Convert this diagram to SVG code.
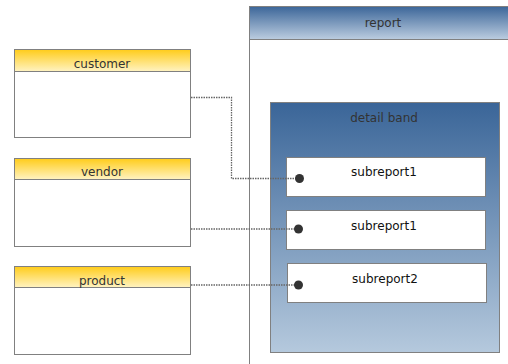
<svg xmlns="http://www.w3.org/2000/svg" width="508" height="364" viewBox="0 0 508 364">
<defs>
<linearGradient id="yel" x1="0" y1="0" x2="0" y2="1"><stop offset="0" stop-color="#ffcc1a"/><stop offset="1" stop-color="#fff3c2"/></linearGradient>
<linearGradient id="blueHead" x1="0" y1="0" x2="0" y2="1"><stop offset="0" stop-color="#3c6699"/><stop offset="1" stop-color="#bccde0"/></linearGradient>
<linearGradient id="band" x1="0" y1="0" x2="0" y2="1"><stop offset="0" stop-color="#3a6598"/><stop offset="1" stop-color="#b5c9dd"/></linearGradient>
<style>
.box{fill:#fff;stroke:#808080;stroke-width:1}
.head{fill:url(#yel);stroke:#808080;stroke-width:1}
.t{font-family:"DejaVu Sans",Verdana,sans-serif;font-size:12px;fill:#333;text-anchor:middle}
.s{font-family:"DejaVu Sans",Verdana,sans-serif;font-size:12px;fill:#111;text-anchor:middle}
.c{fill:none;stroke:#666;stroke-width:1.3;stroke-dasharray:1.5 1}
.dot{fill:#333}
</style>
</defs>
<g id="report">
<rect x="249.5" y="6.5" width="300" height="400" class="box"/>
<rect x="249.5" y="6.5" width="300" height="33" fill="url(#blueHead)" stroke="#808080"/>
<text x="383" y="27" class="t">report</text>
</g>
<g id="detail-band">
<rect x="270.5" y="102.5" width="229" height="250" fill="url(#band)" stroke="#808080"/>
<text x="384" y="122" class="t">detail band</text>
</g>
<g id="customer">
<rect x="14.5" y="49.5" width="176" height="88" class="box"/>
<rect x="14.5" y="49.5" width="176" height="22" class="head"/>
<text x="102" y="68" class="t">customer</text>
</g>
<g id="vendor">
<rect x="14.5" y="158.5" width="176" height="88" class="box"/>
<rect x="14.5" y="158.5" width="176" height="21" class="head"/>
<text x="102" y="176" class="t">vendor</text>
</g>
<g id="product">
<rect x="14.5" y="266.5" width="176" height="88" class="box"/>
<rect x="14.5" y="266.5" width="176" height="21" class="head"/>
<text x="102" y="285" class="t">product</text>
</g>
<g id="subreport1a">
<rect x="286.5" y="157.5" width="199" height="39" class="box"/>
<text x="384" y="176" class="s">subreport1</text>
</g>
<g id="subreport1b">
<rect x="286.5" y="210.5" width="199" height="39" class="box"/>
<text x="384" y="230" class="s">subreport1</text>
</g>
<g id="subreport2">
<rect x="287.5" y="263.5" width="199" height="39" class="box"/>
<text x="385" y="283" class="s">subreport2</text>
</g>
<g id="connectors">
<polyline class="c" points="191,97.5 231.5,97.5 231.5,178.5 299,178.5"/>
<line class="c" x1="191" y1="229" x2="298" y2="229"/>
<line class="c" x1="191" y1="285" x2="298" y2="285"/>
<circle class="dot" cx="299.5" cy="178.5" r="4.5"/>
<circle class="dot" cx="298.5" cy="229" r="4.5"/>
<circle class="dot" cx="298.5" cy="285" r="4.5"/>
</g>
</svg>
